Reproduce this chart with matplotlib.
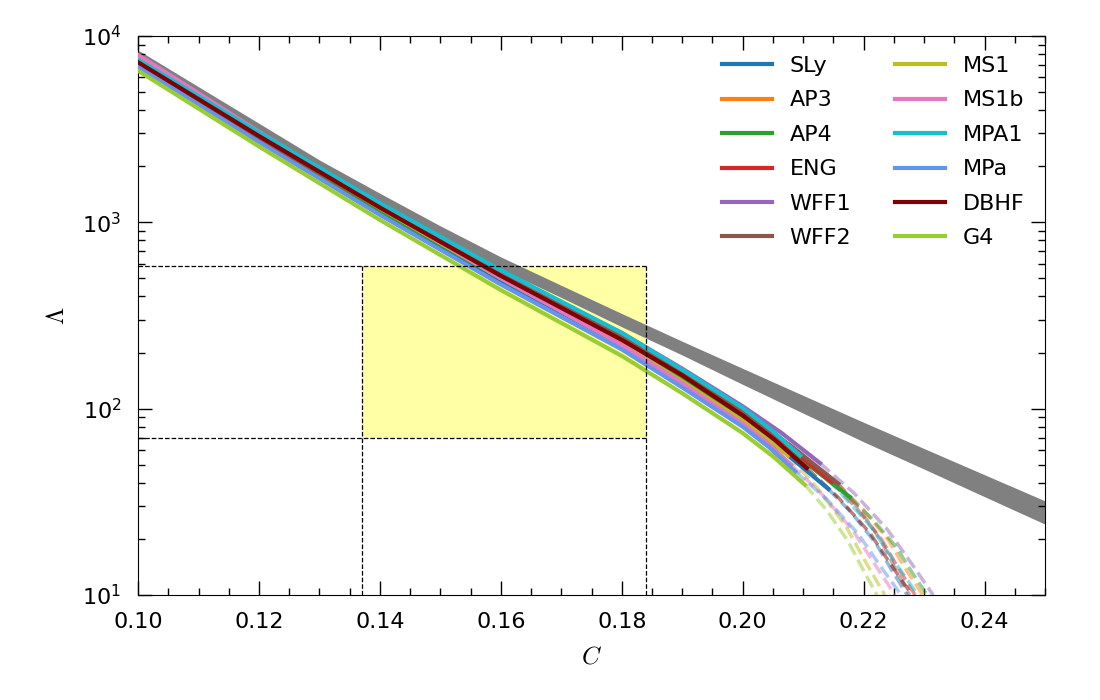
import numpy as np
import matplotlib.pyplot as plt

plt.rcParams['font.size'] = 16
plt.rcParams['mathtext.fontset'] = 'cm'

# universal-relation band (grey)
band_C = [0.10, 0.11, 0.12, 0.13, 0.14, 0.15, 0.16, 0.17, 0.18, 0.19, 0.20, 0.21, 0.22, 0.23, 0.24, 0.25]
band_hi = [8400, 5340, 3400, 2160, 1432, 957, 652, 459, 324, 230, 164.5, 117.8, 84.5, 61.1, 44.2, 32.0]
band_lo = [7145, 4597, 2924, 1858, 1233, 824, 561, 395, 275, 194, 135, 94.6, 66.4, 47.4, 33.7, 24.0]

# constraint box
box_C = [0.137, 0.184]
box_L = [70, 580]

eos_names = ['SLy', 'AP3', 'AP4', 'ENG', 'WFF1', 'WFF2', 'MS1', 'MS1b', 'MPA1', 'MPa', 'DBHF', 'G4']
eos_colors = ['tab:blue', 'tab:orange', 'tab:green', 'tab:red', 'tab:purple', 'tab:brown',
              'tab:olive', 'tab:pink', 'tab:cyan', 'cornflowerblue', 'maroon', 'yellowgreen']

C_grid = [0.10, 0.12, 0.14, 0.16, 0.18, 0.19, 0.20]
# solid part: C_grid followed by two points near the end of the stable branch
tail_C = {
    'SLy':  [0.2071, 0.2142],
    'AP3':  [0.20775, 0.2155],
    'AP4':  [0.20885, 0.2177],
    'ENG':  [0.20735, 0.2147],
    'WFF1': [0.2064, 0.2128],
    'WFF2': [0.2079, 0.2158],
    'MS1':  [0.20375, 0.2075],
    'MS1b': [0.2040, 0.2080],
    'MPA1': [0.20475, 0.2095],
    'MPa':  [0.20435, 0.2087],
    'DBHF': [0.2053, 0.2106],
    'G4':   [0.20515, 0.2103],
}
solid_L = {
    'SLy':  [7010, 2799, 1144, 488, 220, 139, 86, 57.7, 37],
    'AP3':  [7085, 2858, 1186, 512, 234, 148, 92, 62.1, 40],
    'AP4':  [6940, 2799, 1163, 501, 229, 145, 90, 56.3, 33.6],
    'ENG':  [7160, 2899, 1207, 524, 240, 153, 95, 63.5, 40.5],
    'WFF1': [6870, 2852, 1217, 541, 255, 164, 103, 74.2, 51],
    'WFF2': [6940, 2838, 1193, 523, 242, 155, 97, 63.4, 39.6],
    'MS1':  [7520, 2954, 1193, 502, 223, 140, 86, 71, 56],
    'MS1b': [7920, 3059, 1215, 502, 220, 137, 83, 65.9, 50],
    'MPA1': [7450, 3032, 1269, 553, 255, 162, 101, 76.9, 56],
    'MPa':  [6830, 2698, 1096, 464, 208, 130, 80, 62.1, 46],
    'DBHF': [7230, 2904, 1200, 516, 234, 151, 92, 68, 48],
    'G4':   [6510, 2553, 1030, 433, 192, 121, 74, 55, 39],
}
# dashed continuation
dash_C = {
    'SLy':  [0.2142, 0.2181, 0.2220, 0.2246, 0.2272],
    'AP3':  [0.2155, 0.2198, 0.2241, 0.2269, 0.2298],
    'AP4':  [0.2177, 0.2215, 0.2254, 0.2279, 0.2305],
    'ENG':  [0.2147, 0.2188, 0.2230, 0.2257, 0.2285],
    'WFF1': [0.2128, 0.2185, 0.2240, 0.2279, 0.2315],
    'WFF2': [0.2158, 0.2193, 0.2229, 0.2252, 0.2276],
    'MS1':  [0.2075, 0.2123, 0.2171, 0.2203, 0.2235],
    'MS1b': [0.2080, 0.2132, 0.2183, 0.2218, 0.2252],
    'MPA1': [0.2095, 0.2154, 0.2212, 0.2251, 0.2290],
    'MPa':  [0.2087, 0.2140, 0.2192, 0.2227, 0.2262],
    'DBHF': [0.2106, 0.2158, 0.2210, 0.2245, 0.2280],
    'G4':   [0.2103, 0.2139, 0.2174, 0.2198, 0.2222],
}
dash_L = {
    'SLy':  [37, 27.4, 19.0, 13.7, 10],
    'AP3':  [40, 29.1, 19.7, 13.9, 10],
    'AP4':  [33.6, 25.4, 18.1, 13.4, 10],
    'ENG':  [40.5, 29.3, 19.8, 14.0, 10],
    'WFF1': [51, 35, 22.3, 14.8, 10],
    'WFF2': [39.6, 28.9, 19.6, 13.9, 10],
    'MS1':  [56, 37.7, 23.3, 15.1, 10],
    'MS1b': [50, 34.5, 22.0, 14.7, 10],
    'MPA1': [56, 37.7, 23.3, 15.1, 10],
    'MPa':  [46, 32.4, 21.1, 14.4, 10],
    'DBHF': [48, 33.4, 21.6, 14.6, 10],
    'G4':   [39, 28.5, 19.5, 13.9, 10],
}

fig, ax = plt.subplots(figsize=(11, 7), dpi=100)
fig.subplots_adjust(left=0.1255, right=0.95, bottom=0.15, top=0.9486)

ax.fill_between(band_C, band_lo, band_hi, color='gray', lw=0, zorder=1)
ax.fill_between(box_C, box_L[0], box_L[1], color='yellow', alpha=0.35, lw=0, zorder=0)

for name, col in zip(eos_names, eos_colors):
    cs = C_grid + tail_C[name]
    ax.plot(cs, solid_L[name], color=col, lw=3, label=name, zorder=3)
    ax.plot(dash_C[name], dash_L[name], color=col, lw=2.5, ls='--', alpha=0.5, zorder=2)

kw = dict(color='k', ls='--', lw=0.9, zorder=5)
ax.plot([0.10, box_C[1]], [box_L[1], box_L[1]], **kw)
ax.plot([0.10, box_C[1]], [box_L[0], box_L[0]], **kw)
ax.plot([box_C[0], box_C[0]], [10, box_L[1]], **kw)
ax.plot([box_C[1], box_C[1]], [10, box_L[1]], **kw)

ax.set_yscale('log')
ax.set_xlim(0.10, 0.25)
ax.set_ylim(10, 1e4)
ax.set_xticks([0.10, 0.12, 0.14, 0.16, 0.18, 0.20, 0.22, 0.24])
ax.set_xticklabels(['0.10', '0.12', '0.14', '0.16', '0.18', '0.20', '0.22', '0.24'])
ax.xaxis.set_minor_locator(plt.MultipleLocator(0.005))
ax.tick_params(which='both', direction='in', top=True, right=True, pad=12)
ax.tick_params(which='major', length=10, width=1)
ax.tick_params(which='minor', length=5, width=1)
ax.set_xlabel('$C$', fontsize=18, labelpad=9)
ax.set_ylabel('$\\Lambda$', fontsize=18, labelpad=9)

ax.legend(ncol=2, frameon=False, handlelength=2.25, labelspacing=0.65, loc='upper right')

fig.savefig('out.png', dpi=100)
